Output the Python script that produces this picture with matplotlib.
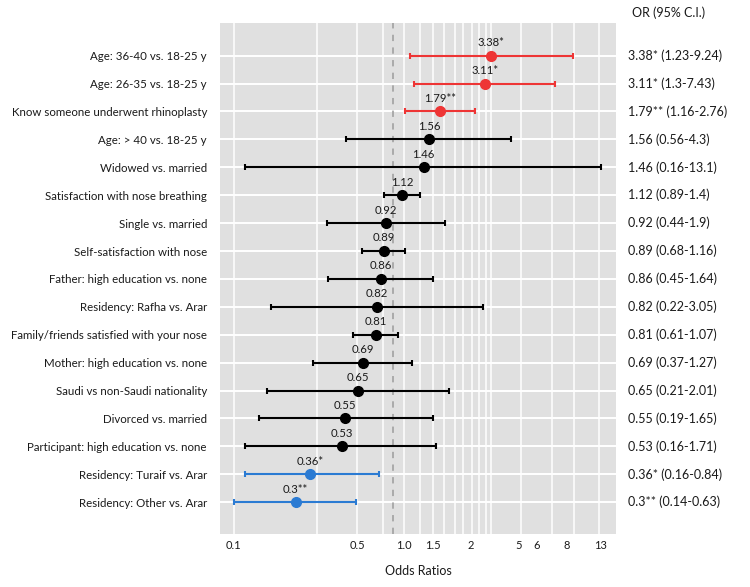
import matplotlib
matplotlib.use("Agg")
import matplotlib.pyplot as plt
import numpy as np

plt.rcParams['font.family'] = ['Lato', 'DejaVu Sans']

# data (top to bottom)
labels = ["Age: 36-40 vs. 18-25 y", "Age: 26-35 vs. 18-25 y",
          "Know someone underwent rhinoplasty", "Age: > 40 vs. 18-25 y",
          "Widowed vs. married", "Satisfaction with nose breathing",
          "Single vs. married", "Self-satisfaction with nose",
          "Father: high education vs. none", "Residency: Rafha vs. Arar",
          "Family/friends satisfied with your nose", "Mother: high education vs. none",
          "Saudi vs non-Saudi nationality", "Divorced vs. married",
          "Participant: high education vs. none", "Residency: Turaif vs. Arar",
          "Residency: Other vs. Arar"]
odds = [3.38, 3.11, 1.79, 1.56, 1.46, 1.12, 0.92, 0.89, 0.86, 0.82, 0.81,
        0.69, 0.65, 0.55, 0.53, 0.36, 0.3]
ci_low = [1.23, 1.3, 1.16, 0.56, 0.16, 0.89, 0.44, 0.68, 0.45, 0.22, 0.61,
          0.37, 0.21, 0.19, 0.16, 0.16, 0.14]
ci_high = [9.24, 7.43, 2.76, 4.3, 13.1, 1.4, 1.9, 1.16, 1.64, 3.05, 1.07,
           1.27, 2.01, 1.65, 1.71, 0.84, 0.63]
stars = ["*", "*", "**", "", "", "", "", "", "", "", "", "", "", "", "", "*", "**"]

# axis tick labels as printed in the original (placed where they appear)
tick_pos = [0.138, 0.64, 1.146, 1.641, 2.626, 4.76, 5.94, 8.62, 12.97]
tick_lab = ["0.1", "0.5", "1.0", "1.5", "2", "5", "6", "8", "13"]
grid_pos = [0.14, 0.39, 0.64, 0.884, 1.146, 1.40, 1.64, 1.88, 2.15, 2.38,
            2.66, 2.90, 3.16, 3.36, 4.88, 7.16, 9.4, 12.8]

RED = "#EE3535"
BLUE = "#2B7BD3"
BLACK = "#000000"
TXT = "#1a1a1a"

fig = plt.figure(figsize=(7.5, 5.87), dpi=100)
ax = fig.add_axes([220 / 750, 1 - 534 / 587, (616 - 220) / 750, (534 - 23) / 587])
ax.set_facecolor("#E0E0E0")
ax.set_xscale("log")
ax.set_xlim(0.1175, 15.8)
ax.set_ylim(17.14, -1.17)

ys = np.arange(len(labels))

# grid
for g in grid_pos:
    ax.axvline(g, color="white", lw=1.1, zorder=1)
for y in ys:
    ax.axhline(y, color="white", lw=1.4, zorder=1)
ax.axvline(1.0, color="#A6A6A6", lw=1.3, dashes=(3.5, 3.5), zorder=2)

for i, y in enumerate(ys):
    if odds[i] > 1 and ci_low[i] > 1:
        c = RED
    elif odds[i] < 1 and ci_high[i] < 1:
        c = BLUE
    else:
        c = BLACK
    ax.errorbar(odds[i], y,
                xerr=[[odds[i] - ci_low[i]], [ci_high[i] - odds[i]]],
                fmt="o", color=c, ms=7, elinewidth=1.5, capsize=2.3,
                capthick=1.5, zorder=3)
    ax.annotate(f"{odds[i]}{stars[i]}", (odds[i], y), xytext=(0, 9.4),
                textcoords="offset points", ha="center", va="center",
                fontsize=8.2, color=TXT)
    # right hand OR column
    ax.text(1.03, y, f"{odds[i]}{stars[i]} ({ci_low[i]}-{ci_high[i]})",
            transform=ax.get_yaxis_transform(), ha="left", va="center",
            fontsize=9.0, color=TXT, clip_on=False)

ax.text(1.04, -1.55, "OR (95% C.I.)", transform=ax.get_yaxis_transform(),
        ha="left", va="center", fontsize=9.0, color=TXT, clip_on=False)

ax.set_yticks(ys)
ax.set_yticklabels(labels, fontsize=8.3, color=TXT)
ax.set_xticks(tick_pos)
ax.set_xticklabels(tick_lab, fontsize=8, color=TXT)
ax.xaxis.set_minor_locator(matplotlib.ticker.NullLocator())
ax.tick_params(axis="both", length=0)
ax.tick_params(axis="y", pad=9.4)
ax.tick_params(axis="x", pad=4.5)
ax.set_xlabel("Odds Ratios", fontsize=9.0, color=TXT, labelpad=10)
for s in ax.spines.values():
    s.set_visible(False)

fig.savefig("out.png", dpi=100)
